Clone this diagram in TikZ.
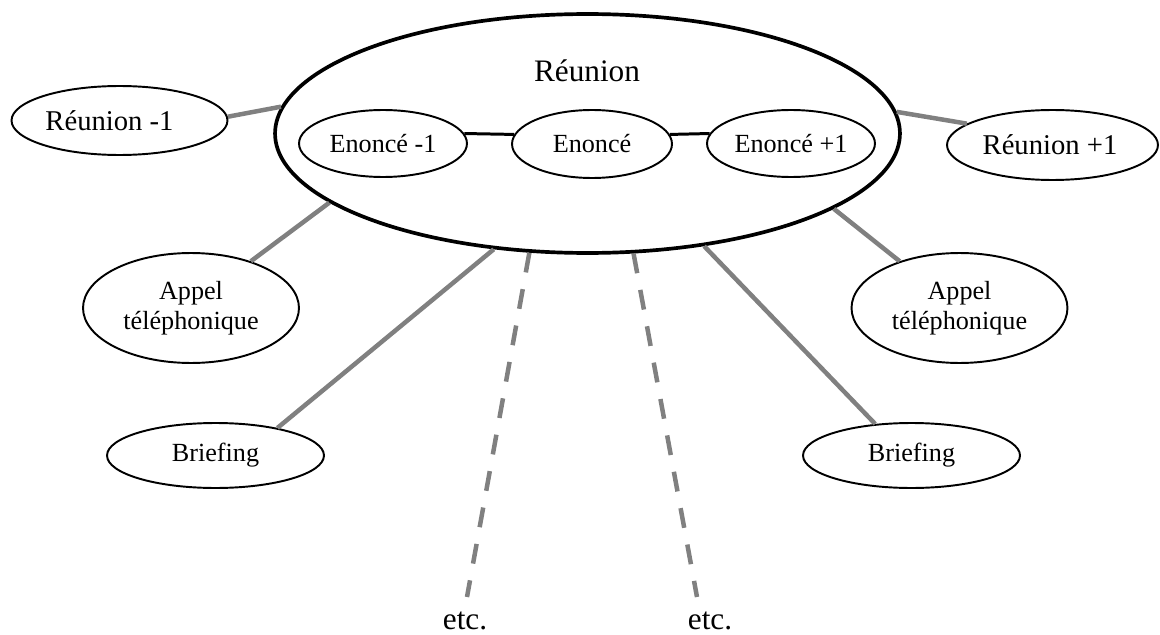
\documentclass[tikz,border=0pt]{standalone}
\usepackage{fontspec}
\setmainfont{Liberation Serif}
\usetikzlibrary{shapes.geometric}

\begin{document}
\begin{tikzpicture}[x=0.02cm, y=0.02cm]
\tikzstyle{every node}+=[inner sep=0pt]
\tikzstyle{bulle}=[draw, ellipse, line width=1.1pt, align=center, font=\fontsize{14.9}{17}\selectfont]
\tikzstyle{lien}=[draw=gray, line width=0.09cm]
\tikzstyle{suite}=[lien, dash pattern=on 0.4cm off 0.34cm]
\useasboundingbox (0,0) rectangle (1160,-635);
% la reunion et ses enonces
\node [draw, ellipse, line width=2.1pt, minimum width=12.5cm, minimum height=4.78cm] (reu) at (587.5,-133.5) {};
\node [font=\fontsize{17.8}{20}\selectfont] (titre) at (587,-71) {Réunion};
\node [bulle, minimum width=3.36cm, minimum height=1.34cm] (en1) at (383,-143.5) {Enoncé -1};
\node [bulle, minimum width=3.2cm, minimum height=1.36cm] (en) at (592,-144) {Enoncé};
\node [bulle, minimum width=3.36cm, minimum height=1.34cm] (ep1) at (791,-143.5) {Enoncé +1};
\draw [black, line width=1.7pt] (en1.7) -- (en.173);
\draw [black, line width=1.7pt] (en.7) -- (ep1.173);
% reunions voisines
\node [bulle, font=\fontsize{16.3}{19}\selectfont, minimum width=4.32cm, minimum height=1.38cm] (rm1) at (119.5,-120.5) {Réunion -1\hspace{0.4cm}};
\node [bulle, font=\fontsize{16.3}{19}\selectfont, minimum width=4.22cm, minimum height=1.4cm] (rp1) at (1052.5,-145) {Réunion +1\hspace{0.1cm}};
\draw [lien] (rm1.2) -- (reu.175.5);
\draw [lien] (reu.4.5) -- (rp1.166);
% autres evenements
\node [bulle, minimum width=4.32cm, minimum height=2.2cm] (ap1) at (191,-308) {Appel\\téléphonique};
\node [bulle, minimum width=4.32cm, minimum height=2.2cm] (ap2) at (959.5,-308) {Appel\\téléphonique};
\node [bulle, minimum width=4.34cm, minimum height=1.3cm] (br1) at (215.5,-455.5) {Briefing};
\node [bulle, minimum width=4.34cm, minimum height=1.3cm] (br2) at (911.5,-455.5) {Briefing};
\draw [lien] (ap1.38) -- (reu.195.4);
\draw [lien] (br1.24.7) -- (reu.231.7);
\draw [lien] (ap2.142) -- (reu.343.3);
\draw [lien] (br2.139.1) -- (reu.316.6);
% etc.
\node [font=\fontsize{17.8}{20}\selectfont, anchor=base] (etc1) at (465,-629) {etc.};
\node [font=\fontsize{17.8}{20}\selectfont, anchor=base] (etc2) at (710,-629) {etc.};
\coordinate (fin1) at (467,-597);
\coordinate (fin2) at (697,-597);
\draw [suite] (reu.244.9) -- (fin1);
\draw [suite] (reu.291.6) -- (fin2);
\end{tikzpicture}
\end{document}
